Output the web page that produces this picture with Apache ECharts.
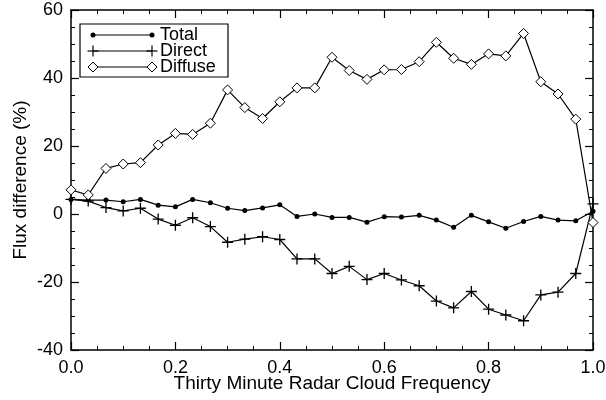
<!DOCTYPE html>
<html>
<head>
<meta charset="utf-8">
<script src="https://cdn.jsdelivr.net/npm/echarts@6/dist/echarts.min.js"></script>
<style>html,body{margin:0;padding:0;background:#fff;}#c{width:606px;height:400px;}</style>
</head>
<body>
<div id="c"></div>
<script>
const frequency = [0.000,0.033,0.067,0.100,0.133,0.167,0.200,0.233,0.267,0.300,0.333,0.367,0.400,0.433,0.467,0.500,0.533,0.567,0.600,0.633,0.667,0.700,0.733,0.767,0.800,0.833,0.867,0.900,0.933,0.967,1.000];
const totalDiff = [4.3,4.1,4.1,3.6,4.3,2.6,2.1,4.3,3.3,1.7,1.0,1.8,2.7,-0.7,0.0,-1.0,-1.0,-2.4,-0.8,-0.9,-0.4,-1.8,-3.9,-0.4,-2.3,-4.2,-2.2,-0.7,-1.8,-2.0,0.8];
const directDiff = [4.3,3.8,1.9,0.9,1.7,-1.5,-3.3,-1.1,-3.7,-8.3,-7.4,-6.7,-7.5,-13.2,-13.2,-17.5,-15.4,-19.3,-17.5,-19.4,-21.1,-25.6,-27.6,-22.8,-28.0,-29.7,-31.4,-23.8,-23.0,-17.5,3.0];
const diffuseDiff = [7.1,5.6,13.4,14.7,15.1,20.3,23.7,23.4,26.7,36.5,31.3,28.1,33.0,37.1,37.1,46.1,42.2,39.6,42.4,42.5,44.8,50.5,45.8,44.0,47.1,46.5,53.1,38.9,35.3,27.9,-2.5];
const seriesNames = ['Total','Direct','Diffuse'];
const xTitle = 'Thirty Minute Radar Cloud Frequency';
const yTitle = 'Flux difference (%)';

const FONT = '"Liberation Sans", Arial, Helvetica, sans-serif';
const pairs = arr => frequency.map((x, i) => [x, arr[i]]);
const plusPath = 'path://M0,4.4H10V5.6H0Z M4.4,0H5.6V10H4.4Z';

const axisCommon = {
  type: 'value',
  axisLine: { show: true, onZero: false, lineStyle: { color: '#000', width: 1.5 } },
  axisTick: { show: true, inside: true, length: 8, lineStyle: { color: '#000', width: 1.2 } },
  minorTick: { show: true, splitNumber: 4, length: 4, lineStyle: { color: '#000', width: 1 } },
  splitLine: { show: false },
  minorSplitLine: { show: false }
};

const chart = echarts.init(document.getElementById('c'), null, { renderer: 'canvas' });

const legendRows = [35, 51, 67];
const lx0 = 93, lx1 = 152;
function diamond(cx, cy) {
  return { type: 'polygon', shape: { points: [[cx, cy - 5], [cx + 5, cy], [cx, cy + 5], [cx - 5, cy]] },
    style: { fill: '#fff', stroke: '#000', lineWidth: 1 }, z: 102 };
}
function plus(cx, cy) {
  return [
    { type: 'line', shape: { x1: cx - 5.5, y1: cy, x2: cx + 5.5, y2: cy }, style: { stroke: '#000', lineWidth: 1.2 }, z: 102 },
    { type: 'line', shape: { x1: cx, y1: cy - 5.5, x2: cx, y2: cy + 5.5 }, style: { stroke: '#000', lineWidth: 1.2 }, z: 102 }
  ];
}
const legendEls = [
  { type: 'rect', shape: { x: 80, y: 24, width: 148, height: 53 }, style: { fill: '#fff', stroke: '#000', lineWidth: 1.2 }, z: 100 }
];
legendRows.forEach((y, i) => {
  legendEls.push({ type: 'line', shape: { x1: lx0, y1: y, x2: lx1, y2: y }, style: { stroke: '#000', lineWidth: 1.2 }, z: 101 });
  if (i === 0) {
    legendEls.push({ type: 'circle', shape: { cx: lx0, cy: y, r: 2.5 }, style: { fill: '#000' }, z: 102 });
    legendEls.push({ type: 'circle', shape: { cx: lx1, cy: y, r: 2.5 }, style: { fill: '#000' }, z: 102 });
  } else if (i === 1) {
    legendEls.push(...plus(lx0, y), ...plus(lx1, y));
  } else {
    legendEls.push(diamond(lx0, y), diamond(lx1, y));
  }
  legendEls.push({ type: 'text', x: 160, y: y + 0.5, style: { text: seriesNames[i], font: '18px ' + FONT, fill: '#000', verticalAlign: 'middle', align: 'left' }, z: 102 });
});

chart.setOption({
  animation: false,
  backgroundColor: '#fff',
  grid: { left: 71, right: 13, top: 10, bottom: 50, containLabel: false, outerBoundsMode: 'none' },
  xAxis: [
    Object.assign({}, axisCommon, {
      min: 0, max: 1, interval: 0.2, position: 'bottom',
      axisLabel: { color: '#000', fontSize: 18, fontFamily: FONT, margin: 9, formatter: v => v.toFixed(1) },
      name: xTitle, nameLocation: 'middle', nameGap: 24, nameMoveOverlap: false,
      nameTextStyle: { color: '#000', fontSize: 19, fontFamily: FONT }
    }),
    Object.assign({}, axisCommon, {
      min: 0, max: 1, interval: 0.2, position: 'top', axisLabel: { show: false }
    })
  ],
  yAxis: [
    Object.assign({}, axisCommon, {
      min: -40, max: 60, interval: 20, position: 'left',
      axisLabel: { color: '#000', fontSize: 18, fontFamily: FONT, margin: 8 },
      name: yTitle, nameLocation: 'middle', nameGap: 41, nameRotate: 90, nameMoveOverlap: false,
      nameTextStyle: { color: '#000', fontSize: 19, fontFamily: FONT }
    }),
    Object.assign({}, axisCommon, {
      min: -40, max: 60, interval: 20, position: 'right', axisLabel: { show: false }
    })
  ],
  series: [
    { name: seriesNames[0], type: 'line', data: pairs(totalDiff), symbol: 'circle', symbolSize: 5, showAllSymbol: true,
      itemStyle: { color: '#000' }, lineStyle: { color: '#000', width: 1.2 }, z: 3 },
    { name: seriesNames[1], type: 'line', data: pairs(directDiff), symbol: plusPath, symbolSize: 11, showAllSymbol: true,
      itemStyle: { color: '#000' }, lineStyle: { color: '#000', width: 1.2 }, z: 3 },
    { name: seriesNames[2], type: 'line', data: pairs(diffuseDiff), symbol: 'diamond', symbolSize: 10, showAllSymbol: true,
      itemStyle: { color: '#fff', borderColor: '#000', borderWidth: 1 }, lineStyle: { color: '#000', width: 1.2 }, z: 4 }
  ],
  graphic: legendEls
});
</script>
</body>
</html>
